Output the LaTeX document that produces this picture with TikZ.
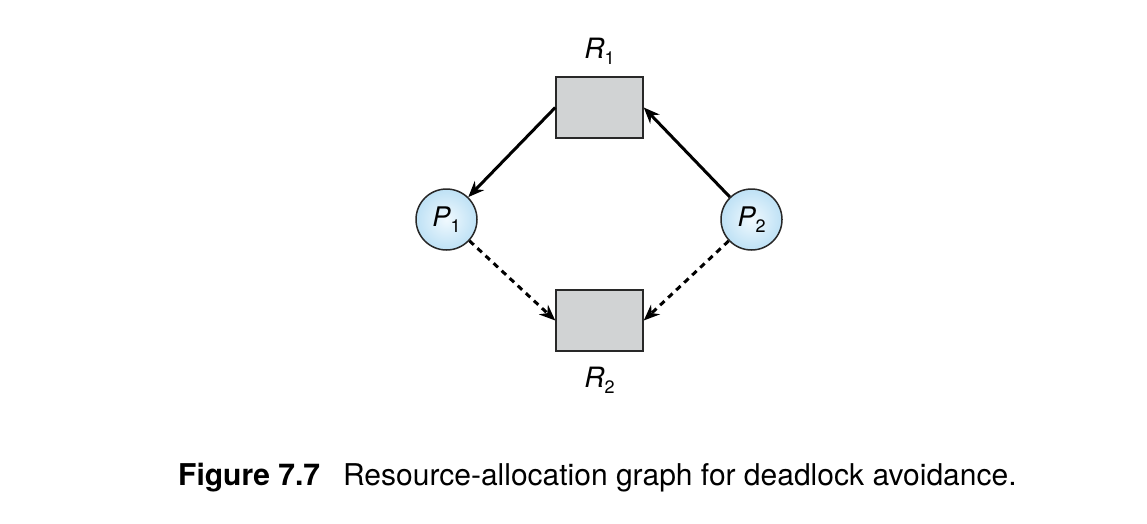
\documentclass[tikz,border=0pt]{standalone}
\usepackage{fontspec}
\setmainfont{TeX Gyre Heros}
\usepackage{tikz}
\usetikzlibrary{arrows.meta}

\definecolor{resgray}{RGB}{209,211,212}
\definecolor{procin}{RGB}{240,249,254}
\definecolor{procout}{RGB}{190,225,245}
\definecolor{edgegray}{RGB}{40,40,40}

\newcommand{\lblsub}[2]{{\itshape #1}\raisebox{-6pt}{\fontsize{18}{18}\selectfont #2}}

\tikzset{
  resource/.style={draw=edgegray, line width=1.5pt, fill=resgray, minimum width=87pt, minimum height=61pt, inner sep=0pt},
  process/.style={circle, draw=edgegray, line width=1.5pt, inner color=procin, outer color=procout, minimum size=61pt, inner sep=0pt, font=\fontsize{27}{27}\selectfont},
  lbl/.style={font=\fontsize{28}{28}\selectfont, inner sep=0pt, anchor=base},
  claim/.style={line width=3pt, -{Stealth[length=16pt,width=13pt]}},
  request/.style={claim, dash pattern=on 6pt off 5pt}
}

\begin{document}
\begin{tikzpicture}[x=1pt, y=1pt, yscale=-1]
\useasboundingbox (0,0) rectangle (1147,523);
\node[resource] (R1) at (599.5,107.5) {};
\node[resource] (R2) at (599.5,320.5) {};
\node[process] (P1) at (446.5,219.5) {\lblsub{P}{1}};
\node[process] (P2) at (751.5,219.5) {\lblsub{P}{2}};
\node[lbl] (R1lbl) at (599.5,58) {\lblsub{R}{1}};
\node[lbl] (R2lbl) at (599.5,387) {\lblsub{R}{2}};
\draw[claim] (R1.west) -- (P1);
\draw[claim] (P2) -- (R1.east);
\draw[request] (P1) -- (R2.west);
\draw[request] (P2) -- (R2.east);
\node[anchor=base west, inner sep=0pt, font=\fontsize{30}{30}\selectfont] (caption) at (178,485)
  {\textbf{Figure 7.7}\hspace{23pt}Resource-allocation graph for deadlock avoidance.};
\end{tikzpicture}
\end{document}
